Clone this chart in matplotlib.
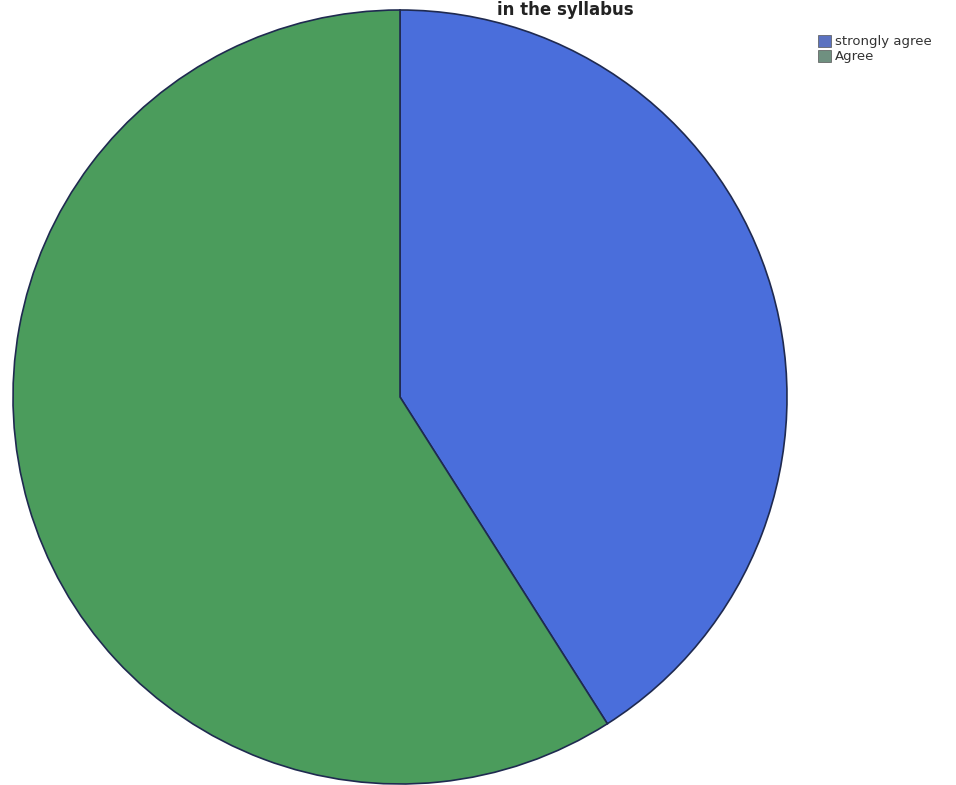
import matplotlib.pyplot as plt
from matplotlib.patches import Patch

labels = ["strongly agree", "Agree"]
values = [41, 59]
colors = ["#4a6edb", "#4b9c5c"]
legend_colors = ["#5b72c0", "#6f9080"]

W, H = 956, 785
fig = plt.figure(figsize=(W / 100, H / 100), dpi=100, facecolor="white")

# pie axes, placed in pixels
cx, cy, r = 400, 397, 387
ax = fig.add_axes([(cx - r) / W, 1 - (cy + r) / H, 2 * r / W, 2 * r / H])
wedges, _ = ax.pie(values, colors=colors, startangle=90, counterclock=False,
                   radius=1.0,
                   wedgeprops=dict(edgecolor="#1f2a50", linewidth=1.2))
ax.set_xlim(-1, 1)
ax.set_ylim(-1, 1)
ax.set_aspect("equal")
ax.axis("off")

# title (only its lower part shows in the reference)
fig.text(565 / W, 1 - 1 / H, "in the syllabus", ha="center", va="top",
         fontsize=12, fontweight="bold", color="#222222")

# legend
handles = [Patch(facecolor=c, edgecolor="#555555", linewidth=0.5) for c in legend_colors]
fig.legend(handles, labels, loc="upper left", bbox_to_anchor=(818 / W, 1 - 35 / H),
           frameon=False, fontsize=9.5, handlelength=1.0, handleheight=1.0,
           handletextpad=0.3, labelspacing=0.1, borderaxespad=0, borderpad=0,
           labelcolor="#333333")

fig.savefig("out.png", dpi=100, facecolor="white")
